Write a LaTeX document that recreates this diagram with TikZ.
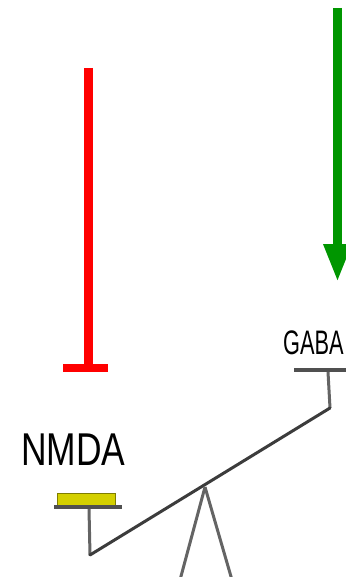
\documentclass[tikz,border=0pt]{standalone}
\usepackage{fontspec}
\setmainfont{Liberation Sans}
\usetikzlibrary{arrows.meta}
\definecolor{inhred}{RGB}{255,0,0}
\definecolor{excgreen}{RGB}{0,150,0}
\definecolor{beamgray}{RGB}{60,60,60}
\definecolor{stemgray}{RGB}{100,100,100}
\definecolor{plateyellow}{RGB}{212,208,0}
\begin{document}
\begin{tikzpicture}[x=1pt,y=-1pt,
  lbl/.style={inner sep=0pt, anchor=north west, text=black},
  beam/.style={draw=beamgray, line width=3pt, line cap=round},
  stem/.style={draw=stemgray, line width=3pt},
  plate/.style={inner sep=0pt, minimum height=4pt, fill=beamgray!90, draw=none}]
\useasboundingbox (0,0) rectangle (345,577);
% labels
\node[lbl, xscale=0.77] (nmda) at (21,434) {\fontsize{46}{46}\selectfont NMDA};
\node[lbl, xscale=0.64] (gaba) at (283,331) {\fontsize{34}{34}\selectfont GABA};
% plates
\node[inner sep=0pt, minimum width=58pt, minimum height=12pt, fill=plateyellow, draw=plateyellow!60!black, line width=1pt, anchor=north west] (yplate) at (57,493) {};
\node[plate, minimum width=68pt, anchor=north west] (nbase) at (54,505) {};
\node[plate, minimum width=60pt, anchor=north west] (gbase) at (294,368) {};
% beam coordinates
\coordinate (lend) at (90,555);
\coordinate (rend) at (330,408);
\coordinate (pivot) at (205,487);
\coordinate (legl) at (180,580);
\coordinate (legr) at (232,580);
\coordinate (nstemtop) at (89,509);
\coordinate (gstemtop) at (328,372);
% stems
\draw[stem] (nstemtop) -- (lend);
\draw[stem] (gstemtop) -- (rend);
% beam and legs
\draw[beam] (lend) -- (rend);
\draw[stem] (pivot) -- (legl);
\draw[stem] (pivot) -- (legr);
% red inhibition
\coordinate (rtop) at (88.5,68);
\node[inner sep=0pt, minimum width=45pt, minimum height=8pt, fill=inhred, anchor=north] (rbar) at (85.5,364) {};
\draw[inhred, line width=9pt] (rtop) -- (rtop |- rbar.north);
% green excitation
\coordinate (gtop) at (337.5,8);
\coordinate (gtip) at (337.5,282);
\draw[excgreen, line width=9pt, -{Triangle[width=26pt,length=38pt]}] (gtop) -- (gtip);
\end{tikzpicture}
\end{document}
